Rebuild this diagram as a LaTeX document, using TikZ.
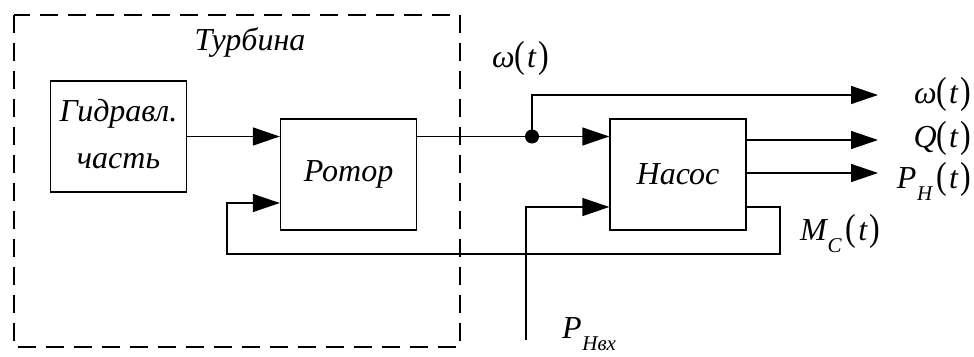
\documentclass[tikz,border=0pt]{standalone}
\usepackage{fontspec}
\setmainfont{Liberation Serif}
\usepackage{graphicx}
\usetikzlibrary{arrows.meta,calc}

\newcommand\argt[1]{{\upshape\scalebox{1}[1.18]{(}}\kern0.05em\textit{#1}\kern0.07em{\upshape\scalebox{1}[1.18]{)}}}
\newcommand\lowsub[1]{\kern0.02em\raisebox{-0.38em}{\fontsize{21}{21}\selectfont\textit{#1}}\kern0.14em}

\begin{document}
\begin{tikzpicture}[x=1pt,y=-1pt,
  blk/.style={draw,line width=1.4pt,minimum width=136pt,minimum height=111pt,inner sep=0pt,
              font=\fontsize{32}{47}\selectfont\itshape,align=center},
  blktext/.style={inner sep=0pt,font=\fontsize{32}{47}\selectfont\itshape,align=center},
  lbl/.style={font=\fontsize{32}{38}\selectfont\itshape,inner sep=0pt},
  conn/.style={line width=1.4pt},
  arr/.style={conn,-{Triangle[length=27pt,width=18pt]}},
  frame/.style={line width=1.5pt,dash pattern=on 18pt off 10pt}
]
\path[use as bounding box] (0,0) rectangle (974,356);

% dashed turbine frame
\draw[frame] (14,15) rectangle (460,347);
\node[lbl,anchor=base] (turb) at (250,50) {Турбина};

% blocks
\node[blk] (hyd) at (118.5,136.5) {};
\node[blktext] (hydtxt) at (118.5,134) {Гидравл.\\часть};
\node[blk] (rot) at (348.5,174.5) {Ротор};
\node[blk] (nas) at (678,174.5) {Насос};

% coordinates
\coordinate (j) at (532,136.5);
\coordinate (wout) at (878,95);
\coordinate (qout) at (878,140);
\coordinate (pout) at (878,173);
\coordinate (pin) at (526,340);
\coordinate (pinrow) at (0,207);
\coordinate (mc) at (780,207);
\coordinate (fb) at (227,254);
\coordinate (fbrow) at (0,203);

% connectors
\draw[arr] (hyd.east) -- (hyd.east -| rot.west);
\draw[arr] (rot.east |- j) -- (j -| nas.west);
\fill (j) circle (7pt);
\draw[arr] (j) |- (wout);
\draw[arr] (qout -| nas.east) -- (qout);
\draw[arr] (pout -| nas.east) -- (pout);
\draw[arr] (pin) |- (pinrow -| nas.west);
\draw[arr] (mc -| nas.east) -- (mc) |- (fb) |- (fbrow -| rot.west);

% labels
\node[lbl,anchor=base west] (w1) at (492,67) {ω\argt{t}};
\node[lbl,anchor=base east] (w2) at (971,103) {ω\argt{t}};
\node[lbl,anchor=base east] (q) at (971,147) {Q\argt{t}};
\node[lbl,anchor=base east] (ph) at (971,188) {P\lowsub{H}\argt{t}};
\node[lbl,anchor=base west] (mcl) at (800,240) {M\lowsub{C}\argt{t}};
\node[lbl,anchor=base west] (phin) at (562,338) {P\lowsub{Hвх}};
\end{tikzpicture}
\end{document}
